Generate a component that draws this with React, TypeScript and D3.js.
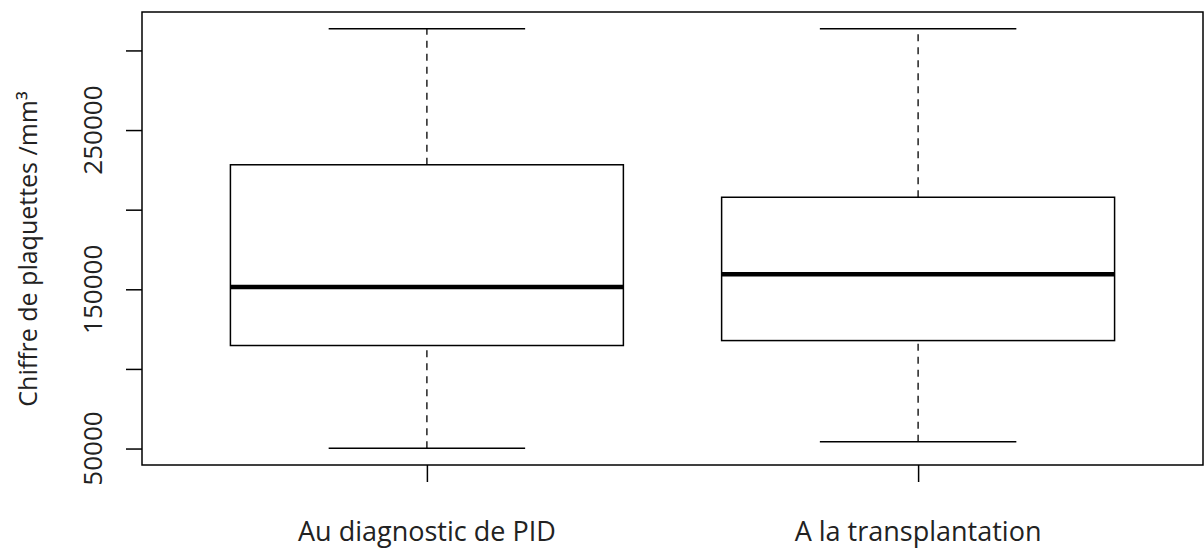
import React, { useRef, useEffect } from 'react';
import * as d3 from 'd3';

const categories = ['Au diagnostic de PID', 'A la transplantation'];
const lowWhisker = [50200, 54200];
const q1 = [114700, 117800];
const median = [151400, 159400];
const q3 = [228200, 207800];
const highWhisker = [313600, 313600];
const yTicks = [50000, 100000, 150000, 200000, 250000, 300000];
const yTickLabels = ['50000', '', '150000', '', '250000', ''];

const App = () => {
  const svgRef = useRef<SVGSVGElement>(null);

  useEffect(() => {
    const svg = d3.select(svgRef.current);
    svg.selectAll('*').remove();

    const width = 1204;
    const height = 548;
    const margin = { top: 12, right: 1, bottom: 83, left: 142 };
    const font = '"Open Sans", Lato, sans-serif';

    // R-style 4% padding on both axes
    const lo = d3.min(lowWhisker)!;
    const hi = d3.max(highWhisker)!;
    const pad = (hi - lo) * 0.04;
    const y = d3.scaleLinear()
      .domain([lo - pad, hi + pad])
      .range([height - margin.bottom, margin.top]);

    const n = categories.length;
    const xPad = n * 0.04;
    const x = d3.scaleLinear()
      .domain([0.5 - xPad, n + 0.5 + xPad])
      .range([margin.left, width - margin.right]);

    const g = svg.append('g');

    const data = categories.map((c, i) => ({
      c, pos: i + 1,
      lo: lowWhisker[i], q1: q1[i], med: median[i], q3: q3[i], hi: highWhisker[i],
    }));

    const boxW = 0.8;
    const capW = 0.4;

    data.forEach(d => {
      const cx = x(d.pos);
      // whiskers
      [[d.lo, d.q1], [d.q3, d.hi]].forEach(([a, b]) => {
        g.append('line')
          .attr('x1', cx).attr('x2', cx)
          .attr('y1', y(a)).attr('y2', y(b))
          .attr('stroke', '#000')
          .attr('stroke-width', 1.3)
          .attr('stroke-dasharray', '7,6');
      });
      // caps
      [d.lo, d.hi].forEach(v => {
        g.append('line')
          .attr('x1', x(d.pos - capW / 2)).attr('x2', x(d.pos + capW / 2))
          .attr('y1', y(v)).attr('y2', y(v))
          .attr('stroke', '#000')
          .attr('stroke-width', 1.5);
      });
      // box
      g.append('rect')
        .attr('x', x(d.pos - boxW / 2))
        .attr('y', y(d.q3))
        .attr('width', x(d.pos + boxW / 2) - x(d.pos - boxW / 2))
        .attr('height', y(d.q1) - y(d.q3))
        .attr('fill', '#fff')
        .attr('stroke', '#000')
        .attr('stroke-width', 1.5);
      // median
      g.append('line')
        .attr('x1', x(d.pos - boxW / 2)).attr('x2', x(d.pos + boxW / 2))
        .attr('y1', y(d.med)).attr('y2', y(d.med))
        .attr('stroke', '#000')
        .attr('stroke-width', 4.5);
    });

    // frame
    g.append('rect')
      .attr('x', margin.left)
      .attr('y', margin.top)
      .attr('width', width - margin.right - margin.left)
      .attr('height', height - margin.bottom - margin.top)
      .attr('fill', 'none')
      .attr('stroke', '#000')
      .attr('stroke-width', 1.5);

    // y axis
    const yAxis = g.append('g')
      .attr('transform', `translate(${margin.left},0)`)
      .call(d3.axisLeft(y).tickValues(yTicks).tickSize(16).tickPadding(0).tickFormat(() => ''))
      .call(s => s.select('.domain').remove());
    yAxis.selectAll('.tick line').attr('stroke', '#000').attr('stroke-width', 1.5);

    g.selectAll('.ylab')
      .data(yTicks)
      .enter().append('text')
      .attr('class', 'ylab')
      .attr('transform', v => `translate(102,${y(v)}) rotate(-90)`)
      .attr('text-anchor', 'middle')
      .style('font-family', font)
      .style('font-size', '26px')
      .attr('fill', '#222')
      .text((v, i) => yTickLabels[i]);

    // x axis
    const xAxis = g.append('g')
      .attr('transform', `translate(0,${height - margin.bottom})`)
      .call(d3.axisBottom(x).tickValues(data.map(d => d.pos)).tickSize(17).tickFormat(() => ''))
      .call(s => s.select('.domain').remove());
    xAxis.selectAll('.tick line').attr('stroke', '#000').attr('stroke-width', 1.5);

    g.selectAll('.xlab')
      .data(data)
      .enter().append('text')
      .attr('class', 'xlab')
      .attr('x', d => x(d.pos))
      .attr('y', 541)
      .attr('text-anchor', 'middle')
      .style('font-family', font)
      .style('font-size', '27px')
      .attr('fill', '#222')
      .text(d => d.c);

    // y title
    svg.append('text')
      .attr('transform', `translate(37,249) rotate(-90)`)
      .attr('text-anchor', 'middle')
      .style('font-family', font)
      .style('font-size', '25px')
      .attr('fill', '#222')
      .text('Chiffre de plaquettes /mm³');
  }, []);

  return (
    <svg
      ref={svgRef}
      width={1204}
      height={548}
      style={{ position: 'absolute', left: 0, top: 0, background: '#fff' }}
    />
  );
};

export default App;
